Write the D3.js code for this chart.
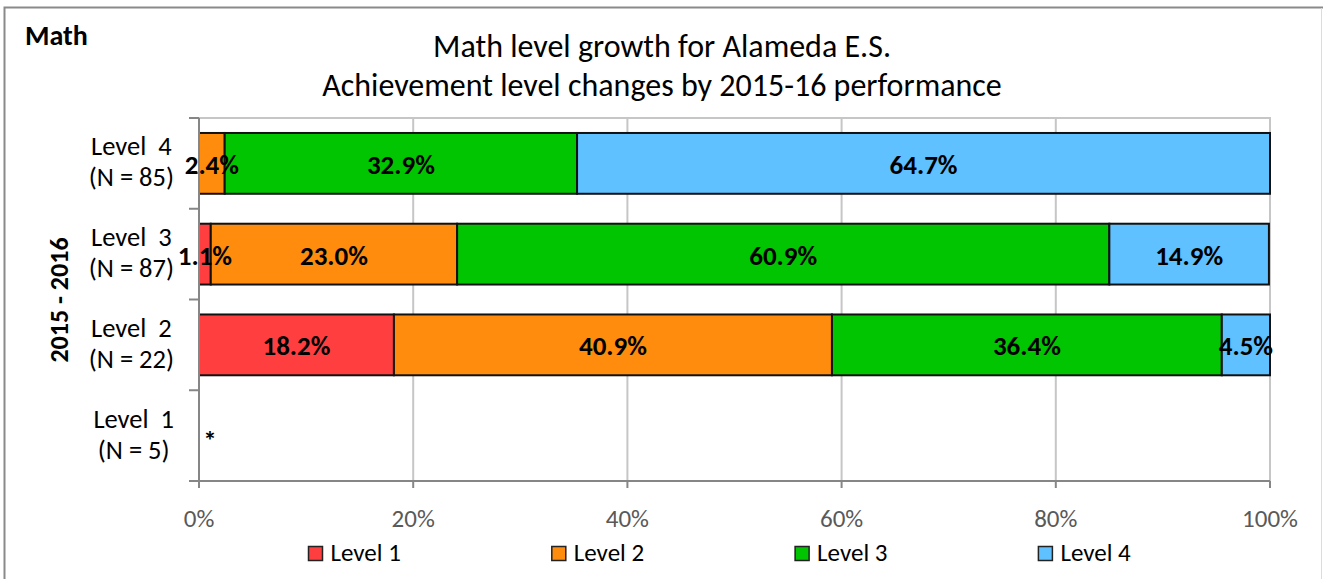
<!DOCTYPE html>
<html><head><meta charset="utf-8">
<script src="https://cdn.jsdelivr.net/npm/d3@7"></script>
<style>
body{margin:0;background:#fff;}
text{font-family:Carlito,Lato,"Open Sans",sans-serif;}
</style></head>
<body>
<svg id="c" width="1323" height="579"></svg>
<script>
const categories = ["Level 4","Level 3","Level 2","Level 1"];
const catLine1 = ["Level  4","Level  3","Level  2","Level  1"];
const catLine2 = ["(N = 85)","(N = 87)","(N = 22)","(N = 5)"];
const seriesNames = ["Level 1","Level 2","Level 3","Level 4"];
const level1 = [0, 1.1, 18.2, 0];
const level2 = [2.4, 23.0, 40.9, 0];
const level3 = [32.9, 60.9, 36.4, 0];
const level4 = [64.7, 14.9, 4.5, 0];
const xTicks = [0,20,40,60,80,100];
const colors = ["#FF3F3F","#FF8C0C","#00C500","#5FC1FF"];
const series = [level1, level2, level3, level4];

const svg = d3.select("#c");
// outer frame
svg.append("rect").attr("x",4.5).attr("y",7.5).attr("width",1340).attr("height",600)
  .attr("fill","none").attr("stroke","#8a8a8a").attr("stroke-width",2);
svg.append("line").attr("x1",1321.5).attr("x2",1321.5).attr("y1",8).attr("y2",579)
  .attr("stroke","#dcdcdc").attr("stroke-width",1);

const L=199, R=1270, T=118, B=481;
const x = d3.scaleLinear().domain([0,100]).range([L,R]);
const y = d3.scaleBand().domain(categories).range([T,B]).paddingInner(0.33).paddingOuter(0.165);

// gridlines
svg.append("g").selectAll("line").data(xTicks.slice(1)).join("line")
  .attr("x1",d=>x(d)).attr("x2",d=>x(d)).attr("y1",T).attr("y2",B)
  .attr("stroke","#c6c6c6").attr("stroke-width",2);
svg.append("line").attr("x1",L).attr("x2",R+1).attr("y1",T).attr("y2",T)
  .attr("stroke","#c6c6c6").attr("stroke-width",2);

// bars
const stackData = categories.map((c,i)=>{
  let acc=0; return series.map((s,j)=>{const v=s[i]; const o={cat:c,j,v,x0:acc,x1:acc+v}; acc+=v; return o;});
});
const gBars = svg.append("g");
stackData.flat().filter(d=>d.v>0).forEach(d=>{
  gBars.append("rect").attr("x",x(d.x0)).attr("y",y(d.cat)).attr("width",x(d.x1)-x(d.x0))
    .attr("height",y.bandwidth()).attr("fill",colors[d.j]).attr("stroke","#111").attr("stroke-width",2);
});
stackData.flat().filter(d=>d.v>0).forEach(d=>{
  gBars.append("text").attr("x",(x(d.x0)+x(d.x1))/2).attr("y",y(d.cat)+y.bandwidth()/2+1)
    .attr("text-anchor","middle").attr("dominant-baseline","central")
    .attr("font-size",27).attr("font-weight","bold").attr("fill","#000")
    .text(d.v.toFixed(1)+"%");
});
// Level 1 asterisk
svg.append("text").attr("x",x(0)+11).attr("y",y("Level 1")+y.bandwidth()/2+14)
  .attr("text-anchor","middle").attr("font-size",27).attr("font-weight","bold").text("*");

// axes
const axisColor="#868686";
svg.append("line").attr("x1",L).attr("x2",L).attr("y1",T).attr("y2",B).attr("stroke",axisColor).attr("stroke-width",2);
svg.append("line").attr("x1",L-10).attr("x2",R).attr("y1",B).attr("y2",B).attr("stroke",axisColor).attr("stroke-width",2);
const bounds = [T].concat(categories.map(c=>y(c)+y.bandwidth()+y.step()*0.33/2));
svg.append("g").selectAll("line").data(bounds.slice(0,4)).join("line")
  .attr("x1",L-10).attr("x2",L).attr("y1",d=>d).attr("y2",d=>d).attr("stroke",axisColor).attr("stroke-width",2);
svg.append("g").selectAll("line").data(xTicks).join("line")
  .attr("x1",d=>x(d)).attr("x2",d=>x(d)).attr("y1",B).attr("y2",B+7).attr("stroke",axisColor).attr("stroke-width",2);
svg.append("g").selectAll("text").data(xTicks).join("text")
  .attr("x",d=>x(d)).attr("y",B+46).attr("text-anchor","middle").attr("font-size",25).attr("fill","#595959")
  .text(d=>d+"%");

// category labels
categories.forEach((c,i)=>{
  const cy = y(c)+y.bandwidth()/2;
  const g = svg.append("g");
  const t1 = g.append("text").attr("y",cy-8).attr("font-size",26.5).attr("fill","#000").attr("text-anchor","middle").style("white-space","pre").text(catLine1[i]);
  const t2 = g.append("text").attr("y",cy+23).attr("font-size",26.5).attr("fill","#000").attr("text-anchor","middle").text(catLine2[i]);
  const w = Math.max(t1.node().getComputedTextLength(), t2.node().getComputedTextLength());
  const cx = 174 - w/2;
  t1.attr("x",cx); t2.attr("x",cx);
});

// y-axis title
svg.append("text").attr("transform","translate(68,300) rotate(-90)").attr("text-anchor","middle")
  .attr("font-size",26).attr("font-weight","bold").text("2015 - 2016");

// titles
svg.append("text").attr("x",25).attr("y",45).attr("font-size",28).attr("font-weight","bold").text("Math");
svg.append("text").attr("x",662).attr("y",57).attr("text-anchor","middle").attr("font-size",32).text("Math level growth for Alameda E.S.");
svg.append("text").attr("x",662).attr("y",96).attr("text-anchor","middle").attr("font-size",32).text("Achievement level changes by 2015-16 performance");

// legend
const lg = svg.append("g");
seriesNames.forEach((n,i)=>{
  const lx = 308.5 + i*243.3;
  lg.append("rect").attr("x",lx).attr("y",546.5).attr("width",14).attr("height",14)
    .attr("fill",colors[i]).attr("stroke","#222").attr("stroke-width",1.5);
  lg.append("text").attr("x",lx+22).attr("y",561).attr("font-size",25).attr("fill","#000").text(n);
});
</script>
</body></html>
